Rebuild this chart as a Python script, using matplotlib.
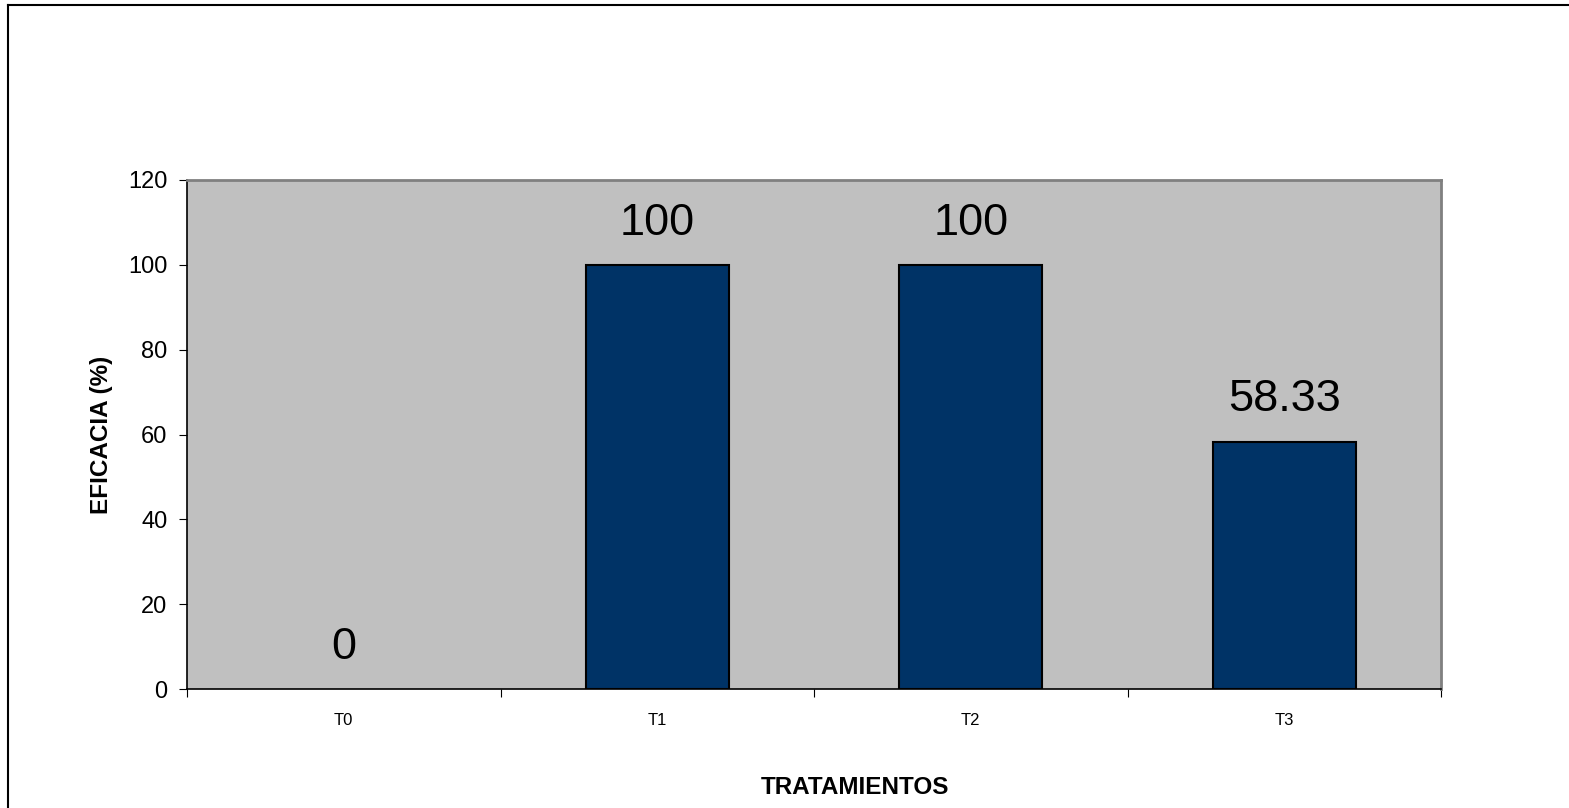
import matplotlib
matplotlib.use("Agg")
import matplotlib.pyplot as plt
from matplotlib.lines import Line2D

# data
tratamientos = ["T0", "T1", "T2", "T3"]
eficacia = [0, 100, 100, 58.33]
etiquetas = ["0", "100", "100", "58.33"]

plt.rcParams['font.family'] = ['Liberation Sans', 'DejaVu Sans']

fig = plt.figure(figsize=(15.69, 8.08), dpi=100)
ax = fig.add_axes([187/1569, 119/808, 1254/1569, 509/808])
ax.set_facecolor('#c0c0c0')

x = list(range(len(tratamientos)))
bars = ax.bar(x, eficacia, width=0.456, color='#003366', edgecolor='black', linewidth=1.5, zorder=3)
# zero-height bar shows nothing
for b, v in zip(bars, eficacia):
    if v == 0:
        b.set_linewidth(0)

for xi, v, lab in zip(x, eficacia, etiquetas):
    ax.text(xi, v + 5, lab, ha='center', va='bottom', fontsize=32.5)

ax.set_xlim(-0.5, len(tratamientos) - 0.5)
ax.set_ylim(0, 120)
ax.set_yticks(range(0, 121, 20))
ax.set_xticks([i - 0.5 for i in range(len(tratamientos) + 1)], minor=False)
ax.set_xticklabels([])
ax.set_xticks(x, minor=True)
ax.set_xticklabels(tratamientos, minor=True, fontsize=12)
ax.tick_params(axis='x', which='minor', length=0, pad=17)
ax.tick_params(axis='x', which='major', length=6, direction='out')
ax.tick_params(axis='y', labelsize=17, length=6, pad=8)

for s in ['top', 'right']:
    ax.spines[s].set_color('#808080')
    ax.spines[s].set_linewidth(2)
for s in ['left', 'bottom']:
    ax.spines[s].set_color('black')
    ax.spines[s].set_linewidth(1.2)

ax.set_ylabel('EFICACIA (%)', fontsize=17.5, fontweight='bold')
ax.yaxis.set_label_coords((113 - 187) / 1254, 0.5)
ax.set_xlabel('TRATAMIENTOS', fontsize=17.5, fontweight='bold')
ax.xaxis.set_label_coords(0.533, -0.17)

# outer frame: top and left only
fig.lines.append(Line2D([8/1569, 1], [1 - 4.5/808, 1 - 4.5/808], transform=fig.transFigure, color='black', linewidth=1.5))
fig.lines.append(Line2D([8/1569, 8/1569], [0, 1 - 4.5/808], transform=fig.transFigure, color='black', linewidth=1.5))

fig.savefig('out.png', dpi=100)
